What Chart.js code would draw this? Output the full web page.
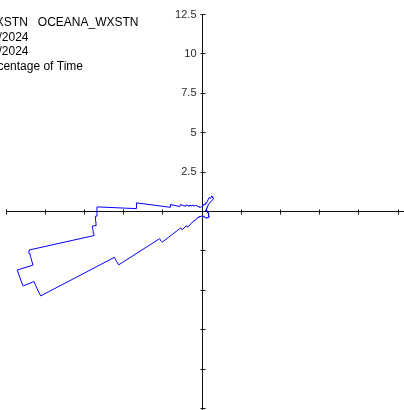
<!DOCTYPE html>
<html>
<head>
<meta charset="utf-8">
<script src="https://cdn.jsdelivr.net/npm/chart.js@4.4.1/dist/chart.umd.min.js"></script>
<style>
  html, body { margin: 0; padding: 0; background: #ffffff; }
  #wrap { width: 404px; height: 410px; position: relative; }
</style>
</head>
<body>
<div id="wrap"><canvas id="rose" width="404" height="410"></canvas></div>
<script>
// Wind direction sectors (degrees from north, clockwise), 5-degree bins
const directions = [
  0, 5, 10, 15, 20, 25, 30, 35, 40, 45, 50, 55,
  60, 65, 70, 75, 80, 85, 90, 95, 100, 105, 110, 115,
  120, 125, 130, 135, 140, 145, 150, 155, 160, 165, 170, 175,
  180, 185, 190, 195, 200, 205, 210, 215, 220, 225, 230, 235,
  240, 245, 250, 255, 260, 265, 270, 275, 280, 285, 290, 295,
  300, 305, 310, 315, 320, 325, 330, 335, 340, 345, 350, 355
];

// Percentage of time the wind blew from each sector
const percentOfTime = [
  0.30, 0.35, 0.40, 0.45, 0.50, 0.60, 1.00, 1.15, 1.10, 0.55, 0.45, 0.40,
  0.35, 0.30, 0.25, 0.25, 0.30, 0.30, 0.35, 0.35, 0.40, 0.40, 0.45, 0.45,
  0.50, 0.55, 0.55, 0.55, 0.50, 0.50, 0.45, 0.40, 0.35, 0.30, 0.30, 0.30,
  0.30, 0.30, 0.30, 0.35, 0.35, 0.40, 0.40, 0.50, 0.75, 1.35, 1.70, 3.20,
  6.30, 11.60, 12.35, 11.30, 7.05, 6.80, 6.70, 4.20, 2.05, 1.45, 1.10, 0.88,
  0.75, 0.65, 0.58, 0.55, 0.45, 0.40, 0.35, 0.30, 0.30, 0.30, 0.30, 0.30
];

const sectorWidth = 5;

// Axis tick positions and the labels shown on the upper vertical axis
const axisTicks = [-12.5, -10, -7.5, -5, -2.5, 2.5, 5, 7.5, 10, 12.5];
const labelValues = [2.5, 5, 7.5, 10, 12.5];
const labelTexts = ['2.5', '5', '7.5', '10', '12.5'];

// Header lines
const headerLines = [
  'OCEANA_WXSTN   OCEANA_WXSTN',
  '1/1/2024',
  '12/31/2024',
  'Percentage of Time'
];
const headerRightEdges = [138.5, 28.5, 28.5, 83];

// Each sector is traced as an arc at its radius; neighbouring arcs join with radial steps
function roseOutline() {
  const pts = [];
  const steps = 4;
  directions.forEach((dir, i) => {
    const r = percentOfTime[i];
    for (let k = 0; k <= steps; k++) {
      const a = (dir - sectorWidth / 2 + (sectorWidth * k) / steps) * Math.PI / 180;
      pts.push({ x: r * Math.sin(a), y: r * Math.cos(a) });
    }
  });
  pts.push({ ...pts[0] });
  return pts;
}

const roseAxes = {
  id: 'roseAxes',
  beforeDatasetsDraw(chart) {
    const { ctx, scales: { x, y } } = chart;
    const cx = Math.floor(x.getPixelForValue(0)) + 0.5;
    const cy = Math.floor(y.getPixelForValue(0)) + 0.5;
    ctx.save();
    ctx.strokeStyle = '#111111';
    ctx.lineWidth = 1;
    ctx.beginPath();
    ctx.moveTo(x.left, cy);
    ctx.lineTo(chart.width, cy);
    ctx.moveTo(cx, y.top);
    ctx.lineTo(cx, chart.height);
    axisTicks.forEach(v => {
      const px = Math.floor(x.getPixelForValue(v)) + 0.5;
      ctx.moveTo(px, cy - 2);
      ctx.lineTo(px, cy + 3);
      const py = Math.floor(y.getPixelForValue(v)) + 0.5;
      ctx.moveTo(cx - 2, py);
      ctx.lineTo(cx + 3, py);
    });
    ctx.stroke();

    ctx.fillStyle = '#2a2a2a';
    ctx.font = '11px "Liberation Sans", Arial, sans-serif';
    ctx.textAlign = 'right';
    ctx.textBaseline = 'middle';
    labelValues.forEach((v, i) => {
      ctx.fillText(labelTexts[i], cx - 6, y.getPixelForValue(v));
    });
    ctx.restore();
  },
  afterDraw(chart) {
    const { ctx } = chart;
    ctx.save();
    ctx.fillStyle = '#000000';
    ctx.font = '12px "Liberation Sans", Arial, sans-serif';
    ctx.textAlign = 'right';
    ctx.textBaseline = 'alphabetic';
    headerLines.forEach((t, i) => {
      ctx.fillText(t, headerRightEdges[i], 26 + i * 14.5);
    });
    ctx.restore();
  }
};

new Chart(document.getElementById('rose').getContext('2d'), {
  type: 'scatter',
  data: {
    datasets: [{
      data: roseOutline(),
      showLine: true,
      borderColor: '#0000ff',
      borderWidth: 1,
      pointRadius: 0,
      pointHoverRadius: 0,
      fill: false,
      tension: 0
    }]
  },
  options: {
    responsive: false,
    animation: false,
    devicePixelRatio: 1,
    layout: { padding: { left: 6, right: 6, top: 14.5, bottom: 1.5 } },
    plugins: { legend: { display: false }, tooltip: { enabled: false } },
    scales: {
      x: { type: 'linear', min: -12.5, max: 12.5, display: false },
      y: { type: 'linear', min: -12.5, max: 12.5, display: false }
    }
  },
  plugins: [roseAxes]
});
</script>
</body>
</html>
